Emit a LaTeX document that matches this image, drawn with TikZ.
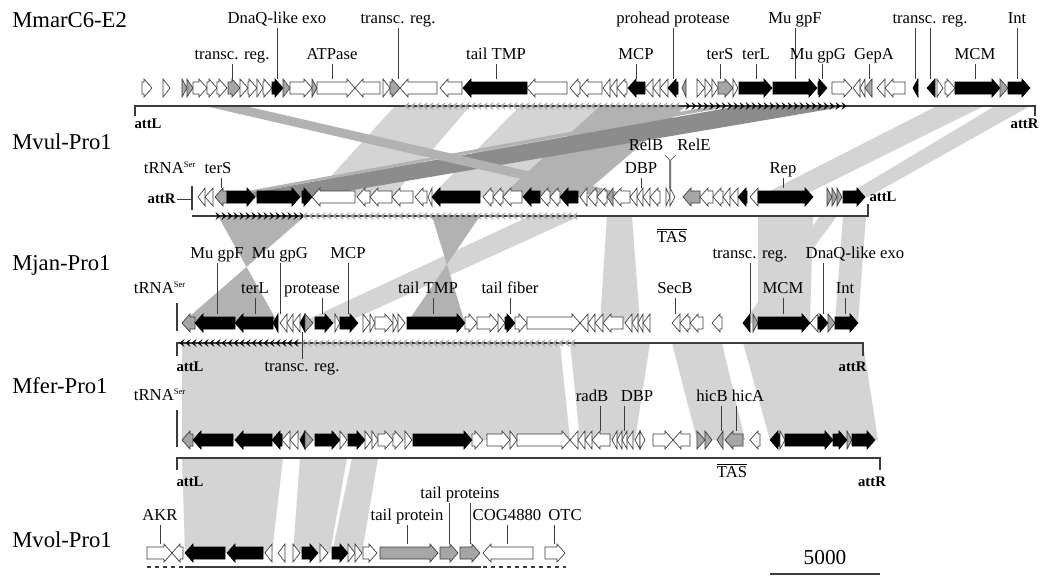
\documentclass[tikz,border=0pt]{standalone}
\usepackage{fontspec}
\setmainfont{Liberation Serif}
\usetikzlibrary{calc}
\definecolor{bandl}{HTML}{D4D4D4}
\definecolor{bandm}{HTML}{B2B2B2}
\definecolor{bandd}{HTML}{8C8C8C}
\definecolor{contorno}{HTML}{3C3C3C}
\definecolor{chevg}{HTML}{A0A0A0}
\newcommand{\ser}{\textsuperscript{\fontsize{6.5}{7}\selectfont Ser}}
% gen: x inicio, x punta, y, estilo
\newcommand{\gene}[4]{%
  \pgfmathsetmacro{\glen}{abs(#2-#1)}%
  \pgfmathsetmacro{\ghead}{min(8,\glen)}%
  \pgfmathsetmacro{\gsgn}{#2>#1 ? 1 : -1}%
  \pgfmathsetmacro{\gneck}{#2-\gsgn*\ghead}%
  \draw[#4] (#1,#3-6) -- (\gneck,#3-6) -- (\gneck,#3-9) -- (#2,#3) -- (\gneck,#3+9) -- (\gneck,#3+6) -- (#1,#3+6) -- cycle;}
% flechitas sobre la linea: x1, x2, y, sentido, color
\newcommand{\chev}[5]{%
  \pgfmathsetmacro{\chb}{#1+6}%
  \foreach \cx in {#1,\chb,...,#2}
    \fill[#5] ({\cx-2.5*#4},{#3-4}) -- ({\cx+2.5*#4},#3) -- ({\cx-2.5*#4},{#3+4}) -- ({\cx-0.5*#4},#3) -- cycle;}
\newcommand{\banda}[7]{\fill[#1] (#2,#6) -- (#3,#6) -- (#5,#7) -- (#4,#7) -- cycle;}

\begin{document}
\begin{tikzpicture}[x=0.75pt,y=-0.75pt,
    lbl/.style={font=\fontsize{12.5}{14}\selectfont,inner sep=1pt,text height=8.5pt,text depth=2.5pt,anchor=south},
    tit/.style={font=\fontsize{17}{20}\selectfont,anchor=west,inner sep=0pt},
    att/.style={font=\fontsize{11}{13}\selectfont\bfseries,inner sep=1pt},
    ldr/.style={draw=contorno,line width=0.5pt},
    trk/.style={draw=contorno,line width=0.9pt},
    gw/.style={draw=contorno,fill=white,line width=0.5pt},
    gb/.style={draw=black,fill=black,line width=0.5pt},
    gg/.style={draw=contorno,fill=black!35,line width=0.5pt},
    bl/.style={fill=bandl},bm/.style={fill=bandm},bd/.style={fill=bandd}]
  \useasboundingbox[fill=white] (0,0) rectangle (1042,576);

  % bandas entre genomas
  \foreach \a/\b/\c/\d/\s in {395/470/312/392/bl,520/600/430/500/bl,600/686/500/580/bm,712/733/215/227/bm,
      739/848/227/312/bd,205/245/600/640/bm,937/984/758/800/bl,995/1030/843/868/bl}
    \banda{\s}{\a}{\b}{\c}{\d}{106}{197};
  \foreach \a/\b/\c/\d/\s in {607/632/600/640/bl,758/813/758/810/bl,843/866/835/858/bl,820/837/743/758/bl,
      530/580/300/345/bl,218/305/278/182/bm,432/480/465/407/bm}
    \banda{\s}{\a}{\b}{\c}{\d}{216}{323};
  \foreach \a/\b/\c/\d/\s in {182/560/182/570/bl,570/650/580/635/bl,672/722/697/745/bl,743/863/770/878/bl}
    \banda{\s}{\a}{\b}{\c}{\d}{343}{440};
  \foreach \a/\b/\c/\d/\s in {182/283/185/272/bl,300/347/293/330/bl,352/378/332/362/bl}
    \banda{\s}{\a}{\b}{\c}{\d}{458}{553};

  % MmarC6-E2
  \node[tit] (mmar) at (12,20) {MmarC6-E2};
  \draw[trk] (135,116) -- (135,106) -- (1035,106) -- (1035,116);
  \chev{407}{682}{106}{-1}{chevg}
  \chev{688}{845}{106}{1}{black}
  \foreach \a/\b/\s in {142/152/gw,163/170/gw,182/187/gg,187/193/gg,193/207/gw,207/217/gw,217/227/gw,228/240/gg,
      240/248/gw,248/257/gw,257/263/gw,263/272/gw,272/283/gb,283/290/gg,290/312/gw,312/317/gg,317/355/gw,380/355/gw,
      383/390/gw,390/400/gg,437/400/gw,462/440/gw,527/463/gb,567/527/gw,580/570/gw,602/580/gw,610/603/gw,617/610/gw,
      627/617/gw,645/628/gb,653/645/gw,660/653/gw,668/660/gw,678/668/gb,686/682/gg,697/705/gw,705/712/gw,712/718/gw,
      718/733/gg,733/738/gw,739/772/gb,773/817/gb,818/827/gb,832/852/gw,860/853/gw,865/860/gw,872/865/gg,885/877/gw,
      905/885/gw,918/913/gb,935/927/gb,937/943/gw,945/955/gw,955/1000/gb,1000/1008/gg,1008/1030/gb}
    \gene{\a}{\b}{88}{\s};
  \node[att,anchor=west] (attl1) at (133,124) {attL};
  \node[att,anchor=east] (attr1) at (1040,124) {attR};
  \node[lbl] (dnaq1) at (277,28) {DnaQ-like exo};
  \node[lbl] (tr1a) at (398,28) {transc. reg.};
  \node[lbl] (pro1) at (673,28) {prohead protease};
  \node[lbl] (mugpf1) at (795,28) {Mu gpF};
  \node[lbl] (tr1b) at (930,28) {transc. reg.};
  \node[lbl] (int1) at (1017,28) {Int};
  \foreach \n in {dnaq1,tr1a,pro1,mugpf1,tr1b,int1}
    \draw[ldr] (\n.south) -- ++(0,51);
  \draw[ldr] (tr1b.south) ++(-15,0) -- ++(0,51);
  \node[lbl] (tr1c) at (232,64) {transc. reg.};
  \node[lbl] (atp1) at (332,64) {ATPase};
  \node[lbl] (tmp1) at (496,64) {tail TMP};
  \node[lbl] (mcp1) at (636,64) {MCP};
  \node[lbl] (ters1) at (720,64) {terS};
  \node[lbl] (terl1) at (756,64) {terL};
  \node[lbl] (mugpg1) at (818,64) {Mu gpG};
  \node[lbl] (gepa1) at (874,64) {GepA};
  \node[lbl] (mcm1) at (975,64) {MCM};
  \foreach \n in {tr1c,atp1,tmp1,mcp1,ters1,terl1,mcm1}
    \draw[ldr] (\n.south) -- ++(0,15);
  \draw[ldr] (mugpg1.south) ++(4,0) -- ++(0,15);
  \draw[ldr] (gepa1.south) ++(-5,0) -- ++(0,15);

  % Mvul-Pro1
  \node[tit] (mvul) at (12,142) {Mvul-Pro1};
  \draw[trk] (192,216) -- (868,216) -- (868,204);
  \draw[trk] (192,186) -- (192,210);
  \chev{218}{302}{216}{1}{black}
  \chev{305}{580}{216}{-1}{chevg}
  \foreach \a/\b/\s in {205/198/gw,213/205/gw,227/215/gg,227/255/gb,257/300/gb,302/312/gb,355/312/gw,370/357/gw,
      392/370/gw,413/392/gw,427/415/gw,432/428/gw,480/432/gb,493/483/gw,503/493/gw,522/503/gw,540/523/gb,550/540/gw,
      560/550/gw,578/560/gb,587/580/gw,597/588/gw,607/597/gw,613/607/gg,630/613/gw,637/630/gw,643/637/gw,650/643/gw,
      660/650/gw,666/670/gw,670/675/gw,700/683/gg,713/700/gw,723/713/gw,730/723/gw,738/730/gw,747/738/gb,758/750/gw,
      758/813/gb,827/832/gg,832/837/gg,837/842/gg,843/865/gb}
    \gene{\a}{\b}{197}{\s};
  \node[att,anchor=east] (attr2) at (177,199) {attR};
  \draw[ldr] (attr2.east) -- (192,199);
  \node[att,anchor=west] (attl2) at (868,197) {attL};
  \node[lbl] (trna2) at (170,178) {tRNA\ser};
  \node[lbl] (ters2) at (218,178) {terS};
  \draw[ldr] (ters2.south) ++(3,0) -- ++(0,10);
  \node[lbl] (dbp2) at (641,178) {DBP};
  \node[lbl] (rep2) at (783,178) {Rep};
  \foreach \n in {dbp2,rep2}
    \draw[ldr] (\n.south) -- ++(0,10);
  \node[lbl] (relb2) at (646,155) {RelB};
  \node[lbl] (rele2) at (694,155) {RelE};
  \draw[ldr] (relb2.south east) -- ++(5,5) -- ++(0,28);
  \draw[ldr] (rele2.south west) -- ++(-5,5) -- ++(0,28);
  \node[lbl,anchor=center] (tas2) at (672,238) {$\overline{\mbox{TAS}}$};

  % Mjan-Pro1
  \node[tit] (mjan) at (12,265) {Mjan-Pro1};
  \draw[trk] (177,356) -- (177,343) -- (863,343) -- (863,356);
  \draw[trk] (177,303) -- (177,331);
  \chev{182}{300}{343}{-1}{black}
  \chev{303}{578}{343}{-1}{chevg}
  \foreach \a/\b/\s in {195/182/gg,235/195/gb,273/235/gb,278/273/gb,287/280/gw,293/287/gw,300/293/gw,305/300/gb,
      305/313/gg,315/333/gb,335/340/gw,340/358/gb,363/370/gw,370/375/gw,375/393/gw,393/398/gw,398/405/gw,407/465/gb,
      465/477/gw,477/498/gw,498/505/gw,505/515/gb,515/527/gw,527/580/gw,588/580/gw,595/588/gw,603/595/gw,623/603/gw,
      632/625/gw,638/632/gw,643/638/gw,650/643/gw,680/672/gw,690/680/gw,703/690/gw,722/712/gw,750/743/gb,753/758/gg,
      758/810/gb,818/810/gw,818/828/gb,828/835/gg,835/858/gb}
    \gene{\a}{\b}{323}{\s};
  \node[att,anchor=west] (attl3) at (175,367) {attL};
  \node[att,anchor=east] (attr3) at (868,367) {attR};
  \node[lbl] (mugpf3) at (217,263) {Mu gpF};
  \node[lbl] (mugpg3) at (280,263) {Mu gpG};
  \node[lbl] (mcp3) at (348,263) {MCP};
  \node[lbl] (tr3a) at (750,263) {transc. reg.};
  \foreach \n in {mugpf3,mugpg3,mcp3,tr3a}
    \draw[ldr] (\n.south) -- ++(0,51);
  \node[lbl] (dnaq3) at (855,263) {DnaQ-like exo};
  \draw[ldr] (dnaq3.south) ++(-32,0) -- ++(0,51);
  \node[lbl] (trna3) at (160,298) {tRNA\ser};
  \node[lbl] (terl3) at (255,298) {terL};
  \node[lbl] (prot3) at (312,298) {protease};
  \node[lbl] (tmp3) at (428,298) {tail TMP};
  \node[lbl] (fiber3) at (510,298) {tail fiber};
  \node[lbl] (secb3) at (675,298) {SecB};
  \node[lbl] (mcm3) at (783,298) {MCM};
  \node[lbl] (int3) at (845,298) {Int};
  \foreach \n in {terl3,fiber3,secb3,mcm3,int3}
    \draw[ldr] (\n.south) -- ++(0,16);
  \draw[ldr] (prot3.south) ++(10,0) -- ++(0,16);
  \draw[ldr] (tmp3.south) ++(5,0) -- ++(0,16);
  \node[lbl,anchor=north] (tr3b) at (302,359) {transc. reg.};
  \draw[ldr] (tr3b.north) -- ++(0,-27);

  % Mfer-Pro1
  \node[tit] (mfer) at (12,386) {Mfer-Pro1};
  \draw[trk] (177,470) -- (177,458) -- (880,458) -- (880,470);
  \draw[trk] (177,410) -- (177,447);
  \foreach \a/\b/\s in {193/182/gg,233/193/gb,272/235/gb,282/272/gb,290/282/gw,298/290/gw,305/300/gb,305/313/gg,
      315/340/gb,340/347/gw,348/365/gb,365/372/gw,372/378/gw,378/393/gw,393/403/gw,405/412/gw,413/472/gb,472/483/gw,
      487/510/gw,510/517/gw,517/570/gw,578/570/gw,585/578/gw,592/585/gw,610/592/gw,617/612/gw,622/617/gw,627/622/gw,
      633/627/gw,640/635/gw,640/645/gw,653/673/gw,690/673/gw,697/705/gg,705/712/gg,723/717/gg,743/725/gg,760/750/gw,
      780/770/gb,780/785/gw,785/833/gb,833/847/gb,847/852/gg,852/875/gb}
    \gene{\a}{\b}{440}{\s};
  \node[att,anchor=west] (attl4) at (175,482) {attL};
  \node[att] (attr4) at (872,482) {attR};
  \node[lbl] (trna4) at (160,405) {tRNA\ser};
  \node[lbl] (radb4) at (592,406) {radB};
  \node[lbl] (dbp4) at (637,406) {DBP};
  \node[lbl] (hicb4) at (712,406) {hicB};
  \node[lbl] (hica4) at (748,406) {hicA};
  \draw[ldr] (radb4.south) ++(8,0) -- ++(0,25);
  \draw[ldr] (dbp4.south) ++(-13,0) -- ++(0,25);
  \draw[ldr] (hicb4.south) ++(9,0) -- ++(0,25);
  \draw[ldr] (hica4.south) ++(-12,0) -- ++(0,25);
  \node[lbl,anchor=center] (tas4) at (732,473) {$\overline{\mbox{TAS}}$};

  % Mvol-Pro1
  \node[tit] (mvol) at (12,540) {Mvol-Pro1};
  \draw[trk,dashed] (147,567) -- (183,567);
  \draw[trk] (185,567) -- (481,567);
  \draw[trk,dashed] (483,567) -- (566,567);
  \foreach \a/\b/\s in {147/172/gw,183/172/gw,225/185/gb,263/227/gb,272/265/gw,285/278/gw,293/300/gw,302/318/gb,
      320/328/gw,332/348/gb,348/355/gw,355/362/gw,363/377/gw,380/438/gg,440/458/gg,460/480/gg,533/483/gw,545/565/gw}
    \gene{\a}{\b}{553}{\s};
  \node[lbl] (akr5) at (160,525) {AKR};
  \node[lbl] (tailp5) at (407,525) {tail protein};
  \node[lbl] (cog5) at (507,525) {COG4880};
  \foreach \n in {akr5,tailp5,cog5}
    \draw[ldr] (\n.south) -- ++(0,19);
  \node[lbl] (otc5) at (565,525) {OTC};
  \draw[ldr] (otc5.south) ++(-11,0) -- ++(0,19);
  \node[lbl] (tailps5) at (460,503) {tail proteins};
  \draw[ldr] (tailps5.south) ++(-11,0) -- ++(0,41);
  \draw[ldr] (tailps5.south) ++(10,0) -- ++(0,41);

  % escala
  \node[font=\fontsize{16}{18}\selectfont,inner sep=1pt] (escala) at (825,557) {5000};
  \draw[line width=1.3pt,contorno] (770,574) -- (880,574);
\end{tikzpicture}
\end{document}
